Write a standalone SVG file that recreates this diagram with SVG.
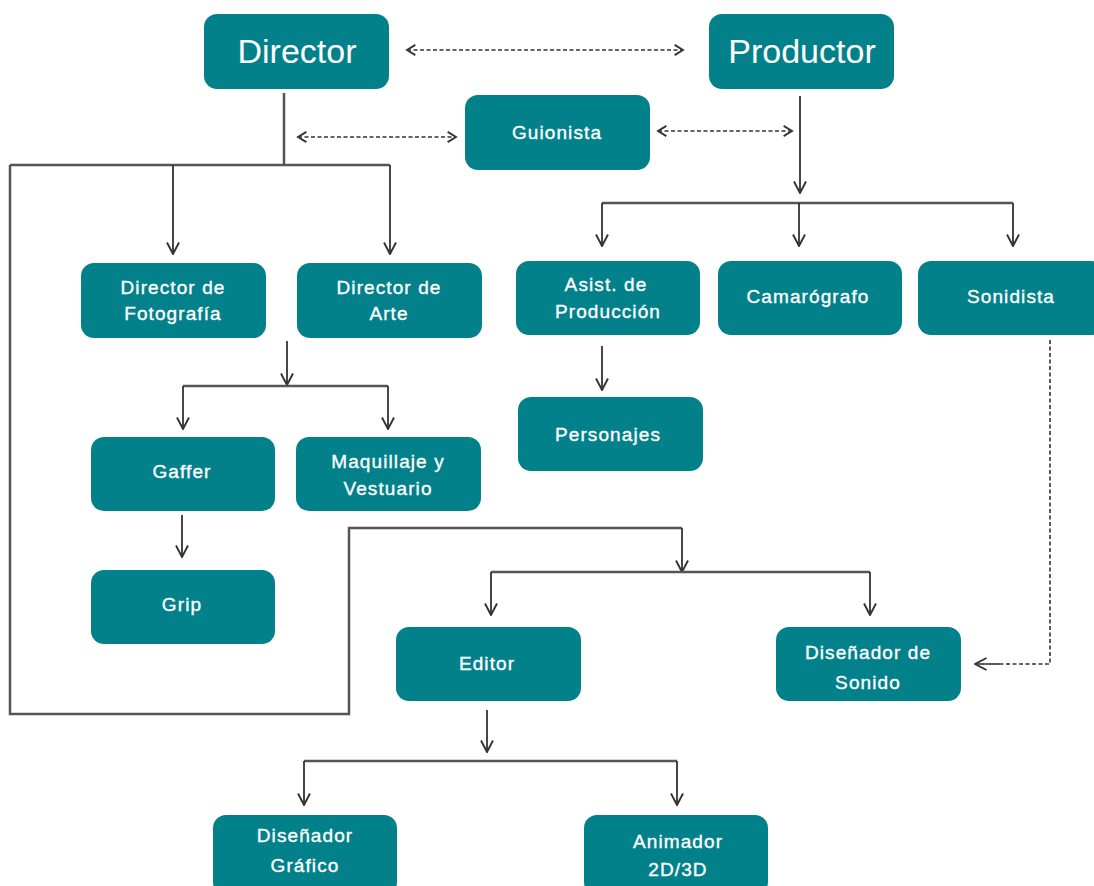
<svg xmlns="http://www.w3.org/2000/svg" width="1094" height="886" viewBox="0 0 1094 886">
<defs>
<marker id="ah" viewBox="0 0 14 14" refX="13" refY="7" markerWidth="14" markerHeight="14" markerUnits="userSpaceOnUse" orient="auto-start-reverse">
<path d="M1.5,1 L13,7 L1.5,13" fill="none" stroke="#333" stroke-width="1.9"/>
</marker>
<marker id="ahd" viewBox="0 0 14 14" refX="12" refY="7" markerWidth="13" markerHeight="13" markerUnits="userSpaceOnUse" orient="auto-start-reverse">
<path d="M3,1.5 L12,7 L3,12.5" fill="none" stroke="#333" stroke-width="2"/>
</marker>
</defs>
<style>
.box{fill:#03818b;}
.t{fill:#fff;stroke:#fff;stroke-width:0.35;font-family:"Liberation Sans",Arial,sans-serif;font-size:19px;letter-spacing:1.1px;text-anchor:middle;}
.big{font-size:34px;letter-spacing:0;stroke-width:0;}
.ln{fill:none;stroke:#555;stroke-width:2.5;}
.ar{fill:none;stroke:#333;stroke-width:1.8;marker-end:url(#ah);}
.da{fill:none;stroke:#333;stroke-width:1.6;stroke-dasharray:4 2.5;marker-end:url(#ahd);marker-start:url(#ahd);}
.dl{fill:none;stroke:#333;stroke-width:1.6;stroke-dasharray:4 2.5;}
</style>
<rect width="1094" height="886" fill="#fff"/>
<g id="connectors">
<path class="ln" d="M284,93 L284,165 M10,165 L390,165 M10,165 L10,714 L349,714 L349,528 L682,528"/>
<path class="ar" d="M173,165 L173,254"/>
<path class="ar" d="M390,165 L390,254"/>
<path class="ar" d="M682,528 L682,572"/>
<path class="ln" d="M491,572 L870,572"/>
<path class="ar" d="M491,572 L491,615"/>
<path class="ar" d="M870,572 L870,615"/>
<path class="ar" d="M287,341 L287,385"/>
<path class="ln" d="M183,386 L388,386"/>
<path class="ar" d="M183,386 L183,429"/>
<path class="ar" d="M388,386 L388,429"/>
<path class="ar" d="M182,515 L182,557"/>
<path class="ar" d="M800,96 L800,193"/>
<path class="ln" d="M602,203 L1013,203"/>
<path class="ar" d="M602,203 L602,246"/>
<path class="ar" d="M799,203 L799,246"/>
<path class="ar" d="M1013,203 L1013,246"/>
<path class="ar" d="M602,346 L602,390"/>
<path class="ar" d="M487,710 L487,752"/>
<path class="ln" d="M304,761 L677,761"/>
<path class="ar" d="M304,761 L304,805"/>
<path class="ar" d="M677,761 L677,805"/>
<path class="da" d="M407,50 L683,50"/>
<path class="da" d="M298,137 L456,137"/>
<path class="da" d="M658,131 L792,131"/>
<path class="dl" d="M1050,340 L1050,664 L980,664"/>
<path class="ar" style="stroke-dasharray:4 2.5;stroke-width:1.6" d="M1000,664 L975,664"/>
</g>
<g id="director"><rect class="box" x="204" y="14" width="185" height="75" rx="13"/><text class="t big" x="297" y="63">Director</text></g>
<g id="productor"><rect class="box" x="709" y="14" width="185" height="75" rx="13"/><text class="t big" x="802" y="63">Productor</text></g>
<g id="guionista"><rect class="box" x="465" y="95" width="185" height="75" rx="13"/><text class="t" x="557" y="139">Guionista</text></g>
<g id="dir-foto"><rect class="box" x="81" y="263" width="185" height="75" rx="13"/><text class="t" x="173" y="294">Director de</text><text class="t" x="173" y="320">Fotografía</text></g>
<g id="dir-arte"><rect class="box" x="297" y="263" width="185" height="75" rx="13"/><text class="t" x="389" y="294">Director de</text><text class="t" x="389" y="320">Arte</text></g>
<g id="asist"><rect class="box" x="516" y="261" width="184" height="74" rx="13"/><text class="t" x="606" y="291">Asist. de</text><text class="t" x="608" y="318">Producción</text></g>
<g id="camarografo"><rect class="box" x="718" y="261" width="184" height="74" rx="13"/><text class="t" x="808" y="303">Camarógrafo</text></g>
<g id="sonidista"><rect class="box" x="918" y="261" width="186" height="74" rx="13"/><text class="t" x="1011" y="303">Sonidista</text></g>
<g id="gaffer"><rect class="box" x="91" y="437" width="184" height="74" rx="13"/><text class="t" x="182" y="478">Gaffer</text></g>
<g id="maquillaje"><rect class="box" x="296" y="437" width="185" height="74" rx="13"/><text class="t" x="388" y="468">Maquillaje y</text><text class="t" x="388" y="495">Vestuario</text></g>
<g id="personajes"><rect class="box" x="518" y="397" width="185" height="74" rx="13"/><text class="t" x="608" y="441">Personajes</text></g>
<g id="grip"><rect class="box" x="91" y="570" width="184" height="74" rx="13"/><text class="t" x="182" y="611">Grip</text></g>
<g id="editor"><rect class="box" x="396" y="627" width="185" height="74" rx="13"/><text class="t" x="487" y="670">Editor</text></g>
<g id="dis-sonido"><rect class="box" x="776" y="627" width="185" height="74" rx="13"/><text class="t" x="868" y="659">Diseñador de</text><text class="t" x="868" y="689">Sonido</text></g>
<g id="dis-grafico"><rect class="box" x="213" y="815" width="184" height="80" rx="13"/><text class="t" x="305" y="842">Diseñador</text><text class="t" x="305" y="872">Gráfico</text></g>
<g id="animador"><rect class="box" x="584" y="815" width="184" height="80" rx="13"/><text class="t" x="678" y="848">Animador</text><text class="t" x="678" y="876">2D/3D</text></g>
</svg>
